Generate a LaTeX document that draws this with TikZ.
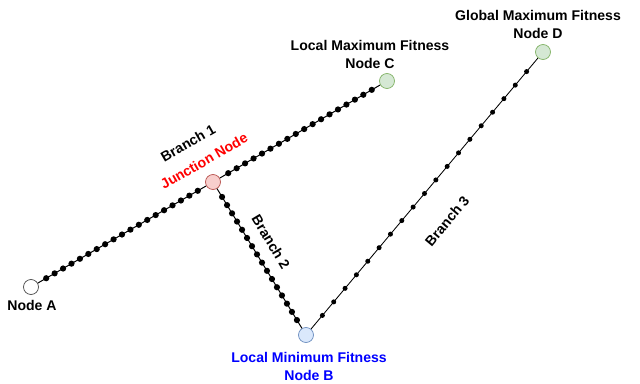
\documentclass[tikz,border=0pt]{standalone}
\usepackage{fontspec}
\setmainfont{Liberation Sans}
\definecolor{jfill}{HTML}{F8CECC}
\definecolor{jdraw}{HTML}{B85450}
\definecolor{gfill}{HTML}{D5E8D4}
\definecolor{gdraw}{HTML}{82B366}
\definecolor{bfill}{HTML}{DAE8FC}
\definecolor{bdraw}{HTML}{6C8EBF}
\begin{document}
\begin{tikzpicture}[x=0.025cm,y=-0.025cm]
  \tikzset{ v/.style={circle,draw,line width=0.5pt,inner sep=0pt,minimum size=0.375cm},
    d/.style={circle,fill=black,inner sep=0pt,minimum size=0.155cm},
    ds/.style={circle,fill=black,inner sep=0pt,minimum size=0.125cm},
    lbl/.style={font=\bfseries\fontsize{10}{12.8}\selectfont,align=center,inner sep=0pt},
  }
  \useasboundingbox (0,0) rectangle (640,383);
  \node[v, draw=black!70, fill=white] (A) at (31,287)  {};
  \node[v, draw=jdraw, fill=jfill]    (J) at (213,182) {};
  \node[v, draw=gdraw, fill=gfill]    (C) at (387,81)  {};
  \node[v, draw=bdraw, fill=bfill]    (B) at (306,335) {};
  \node[v, draw=gdraw, fill=gfill]    (D) at (543,52)  {};

  % the branches with their steps
  \draw[line width=0.7pt] (A) -- (J);
  \foreach \i in {1,...,19} \path (A) -- (J) node[d, pos=\i/20] {};
  \draw[line width=0.7pt] (J) -- (C);
  \foreach \i in {1,...,18} \path (J) -- (C) node[d, pos=\i/19] {};
  \draw[line width=0.7pt] (J) -- (B);
  \foreach \i in {1,...,16} \path (J) -- (B) node[d, pos=\i/17] {};
  \draw[line width=0.6pt] (B) -- (D);
  \foreach \i in {1,...,19} \path (B) -- (D) node[ds, pos=\i/20] {};

  % the labels
  \node[lbl] (lA) at (32,305) {Node A};
  \node[lbl, red, rotate=30] (lJ) at (204,161) {Junction Node};
  \node[lbl, rotate=30] (b1) at (188,143) {Branch 1};
  \node[lbl, rotate=-59] (b2) at (271,242) {Branch 2};
  \node[lbl, rotate=50] (b3) at (447,221) {Branch 3};
  \node[lbl] (lC) at (370,54.5) {Local Maximum Fitness\\Node C};
  \node[lbl] (lD) at (538,24.5) {Global Maximum Fitness\\Node D};
  \node[lbl, blue] (lB) at (309,366) {Local Minimum Fitness\\Node B};
\end{tikzpicture}
\end{document}
